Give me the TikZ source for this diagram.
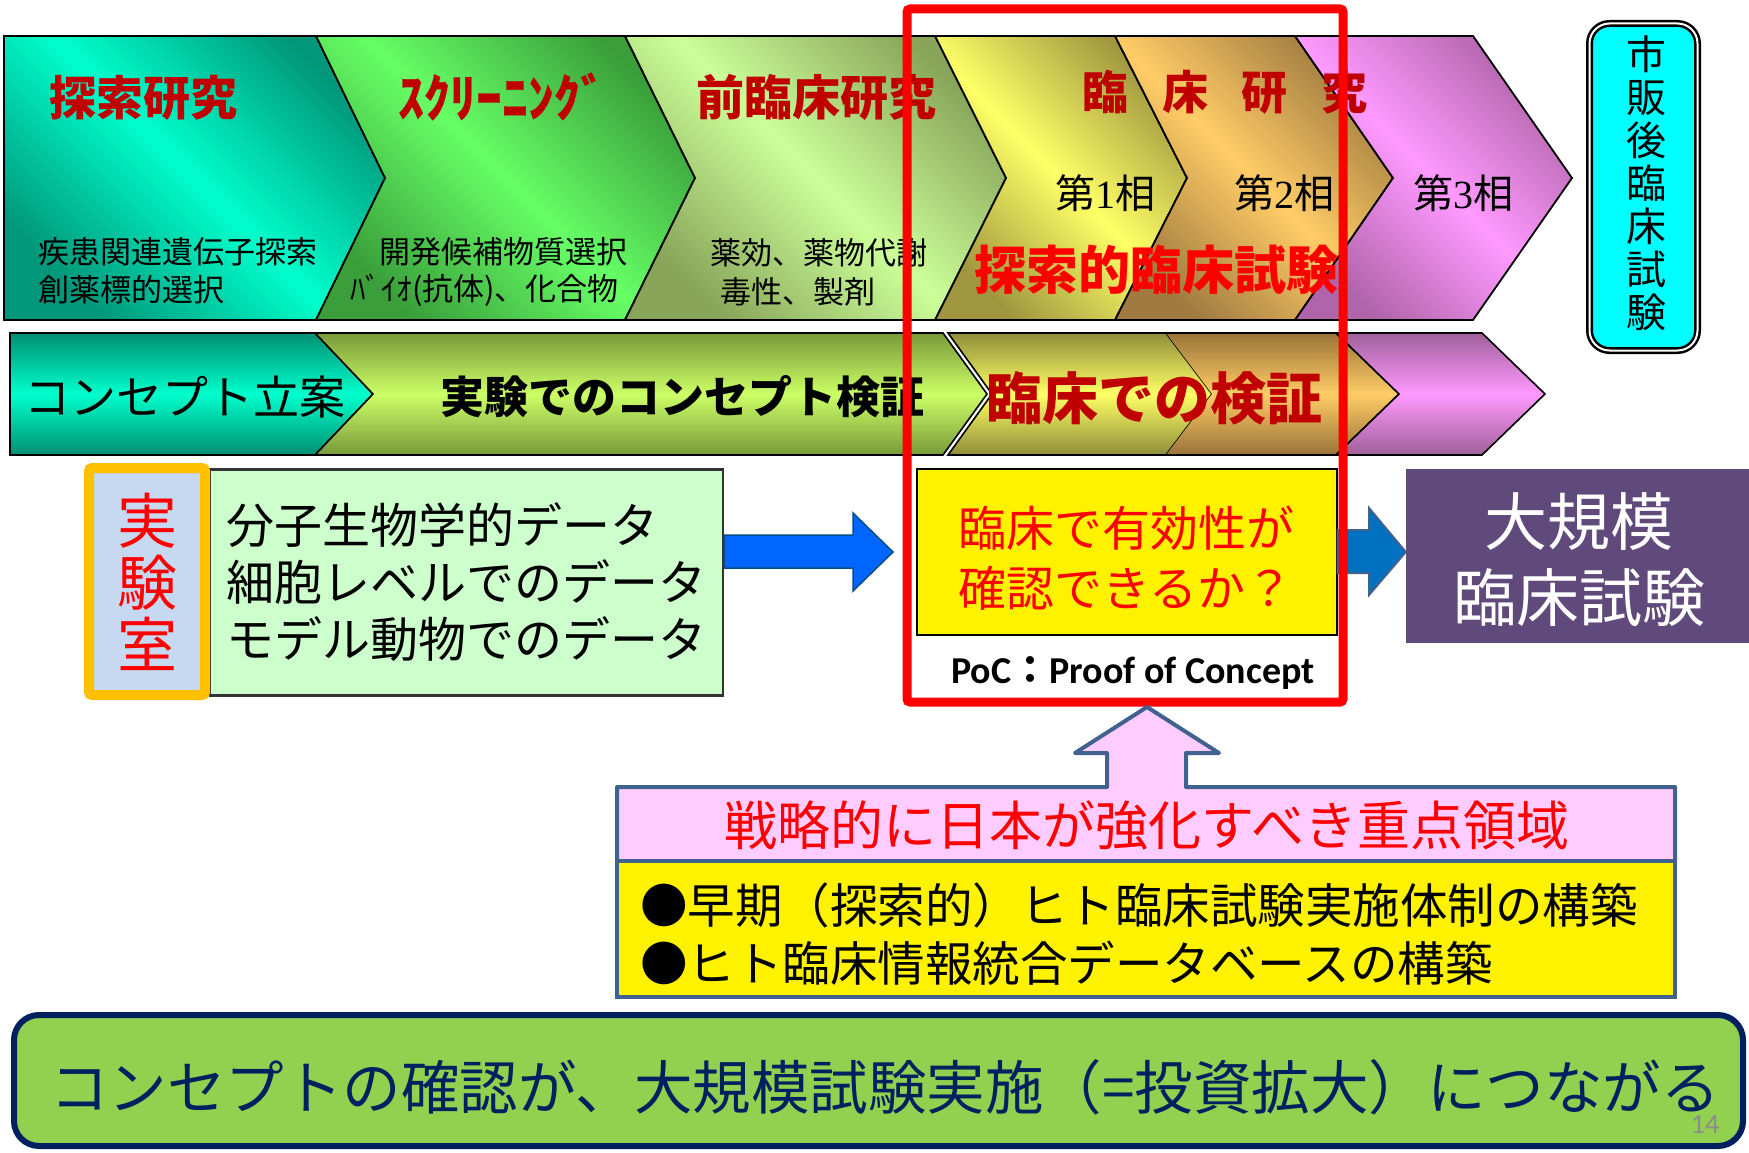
\documentclass[tikz,border=0pt]{standalone}
\usepackage{fontspec}
\setmainfont{Noto Sans CJK JP}
\newfontfamily\calfont{Carlito}
\newfontfamily\serfont{Liberation Serif}
\usetikzlibrary{calc}
\definecolor{dred}{HTML}{C00000}
\definecolor{bred}{HTML}{FF0000}
\definecolor{cAd}{HTML}{00977A}\definecolor{cAb}{HTML}{00FFCC}
\definecolor{cBd}{HTML}{3A9F3A}\definecolor{cBb}{HTML}{66FF66}
\definecolor{cCd}{HTML}{88A55A}\definecolor{cCb}{HTML}{CCFF99}
\definecolor{cDd}{HTML}{A0963F}\definecolor{cDb}{HTML}{FFFF66}
\definecolor{cEd}{HTML}{A07A40}\definecolor{cEb}{HTML}{FFCC66}
\definecolor{cFd}{HTML}{B064AA}\definecolor{cFb}{HTML}{FF99FF}
\definecolor{rAd}{HTML}{008F72}\definecolor{rAb}{HTML}{00FFCC}
\definecolor{rBd}{HTML}{789A3A}\definecolor{rBb}{HTML}{CCFF66}
\definecolor{rCd}{HTML}{8F8E3A}\definecolor{rCb}{HTML}{FFFF66}
\definecolor{rEd}{HTML}{9A7338}\definecolor{rEb}{HTML}{FFCC66}
\definecolor{rFd}{HTML}{A0609A}\definecolor{rFb}{HTML}{FF99FF}
\definecolor{labor}{HTML}{FFC000}
\definecolor{labfill}{HTML}{C6D9F1}
\definecolor{lgreen}{HTML}{CCFFCC}
\definecolor{purp}{HTML}{604A7B}
\definecolor{steel}{HTML}{41618F}
\definecolor{pinkf}{HTML}{FFCCFF}
\definecolor{navy}{HTML}{002060}
\definecolor{concg}{HTML}{92D050}
\definecolor{arrb}{HTML}{0066FF}
\definecolor{arrd}{HTML}{0070C0}
\definecolor{aqua}{HTML}{00FFFF}
\newcommand\fz[2]{\fontsize{#1}{#2}\selectfont}
\tikzset{
  chev/.style={draw=black, line width=1.8pt, line join=miter},
  chevthin/.style={draw=black, line width=1.6pt, line join=miter},
  dg/.style n args={2}{top color=#1, bottom color=#1, middle color=#2, shading angle=-45},
  vg/.style n args={2}{top color=#1, bottom color=#1, middle color=#2},
  txt/.style={inner sep=0pt, outer sep=0pt},
}
\begin{document}
\begin{tikzpicture}[x=1pt,y=-1pt]
\fill[white] (0,0) rectangle (1749,1153);
\useasboundingbox (0,0) rectangle (1749,1153);

% ---------- row 1 chevrons
\path[chev, dg={cAd}{cAb}] (4,36)--(316,36)--(385,178)--(316,320)--(4,320)--cycle;
\path[chev, dg={cBd}{cBb}] (316,36)--(625,36)--(695,178)--(625,320)--(316,320)--(385,178)--cycle;
\path[chev, dg={cCd}{cCb}] (625,36)--(935,36)--(1006,178)--(935,320)--(625,320)--(695,178)--cycle;
\path[chev, dg={cDd}{cDb}] (935,36)--(1115,36)--(1187,178)--(1115,320)--(935,320)--(1006,178)--cycle;
\path[chev, dg={cEd}{cEb}] (1115,36)--(1295,36)--(1393,178)--(1295,320)--(1115,320)--(1187,178)--cycle;
\path[chev, dg={cFd}{cFb}] (1295,36)--(1473,36)--(1572,178)--(1473,320)--(1295,320)--(1393,178)--cycle;

% ---------- row 1 texts
\node[txt, text=dred, font=\bfseries\fz{47}{56}] (t1) at (143,98) {探索研究};
\node[txt, text=dred, font=\bfseries\fz{52}{60}] (t2) at (502,97) {ｽｸﾘｰﾆﾝｸﾞ};
\node[txt, text=dred, font=\bfseries\fz{48}{56}] (t3) at (816,97) {前臨床研究};
\node[txt, text=dred, font=\bfseries\fz{46}{56}] (t4) at (1225,92) {臨\hspace{34pt}床\hspace{34pt}研\hspace{34pt}究};

\node[txt, anchor=west, font=\fz{31}{38}] (s1a) at (38,252) {疾患関連遺伝子探索};
\node[txt, anchor=west, font=\fz{31}{38}] (s1b) at (38,290) {創薬標的選択};
\node[txt, anchor=west, font=\fz{31}{38}] (s2a) at (379,252) {開発候補物質選択};
\node[txt, anchor=west, font=\fz{31}{38}] (s2b) at (350,290) {ﾊﾞｲｵ(抗体)、化合物};
\node[txt, anchor=west, font=\fz{31}{38}] (s3a) at (710,253) {薬効、薬物代謝};
\node[txt, anchor=west, font=\fz{31}{38}] (s3b) at (720,292) {毒性、製剤};

\node[txt, font=\fz{40}{48}] (p1) at (1105,193) {第{\serfont 1}相};
\node[txt, font=\fz{40}{48}] (p2) at (1284,193) {第{\serfont 2}相};
\node[txt, font=\fz{40}{48}] (p3) at (1463,193) {第{\serfont 3}相};
\node[txt, text=bred, font=\bfseries\fz{52}{60}] (t5) at (1156,270) {探索的臨床試験};

% ---------- row 2 chevrons
\path[chevthin, vg={rAd}{rAb}] (10,333)--(315,333)--(373,394)--(315,455)--(10,455)--cycle;
\path[chevthin, vg={rBd}{rBb}] (315,333)--(943,333)--(987,394)--(943,455)--(315,455)--(373,394)--cycle;
\path[chevthin, vg={rCd}{rCb}] (948,333)--(1166,333)--(1212,394)--(1166,455)--(948,455)--(992,394)--cycle;
\path[vg={rEd}{rEb}] (1166,333)--(1336,333)--(1399,394)--(1336,455)--(1166,455)--(1212,394)--cycle;
\draw[chevthin] (1166,333)--(1336,333)--(1399,394)--(1336,455)--(1166,455);
\path[chevthin, vg={rFd}{rFb}] (1336,333)--(1482,333)--(1545,394)--(1482,455)--(1336,455)--(1399,394)--cycle;

\node[txt, anchor=west, font=\fz{46}{54}] (r2a) at (24,397) {コンセプト立案};
\node[txt, font=\bfseries\fz{44}{52}] (r2b) at (682,397) {実験でのコンセプト検証};
\node[txt, text=dred, font=\bfseries\fz{56}{64}] (r2c) at (1154,398) {臨床での検証};

% ---------- row 3
\node[draw=black!80, line width=2.5pt, fill=lgreen, minimum width=513pt, minimum height=226pt,
      align=left, font=\fz{48}{57}, inner sep=0pt] (labdata) at (466.5,582.5)
      {分子生物学的データ\\細胞レベルでのデータ\\モデル動物でのデータ};
\node[draw=labor, line width=10pt, fill=labfill, minimum width=116pt, minimum height=227pt,
      rounded corners=3pt, text=bred, font=\fz{60}{62}, align=center, inner sep=0pt] (lab) at (147,581.5)
      {実\\験\\室};

\node[draw=black, line width=2pt, fill=yellow, minimum width=420pt, minimum height=166pt] (poc) at (1126.5,552) {};
\node[txt, text=bred, font=\fz{48}{60}, align=center] (poctext) at (1126,558) {臨床で有効性が\\確認できるか？};
\node[txt, font=\bfseries\fz{38}{44}] (poclabel) at (1133,673) {{\calfont PoC}：{\calfont Proof of Concept}};

\node[fill=purp, minimum width=343pt, minimum height=174pt, inner sep=0pt] (big) at (1577.5,556) {};
\node[txt, text=white, align=center, font=\fz{63}{76}] (bigtext) at (1579,560) {大規模\\臨床試験};

\node[draw=black, line width=2.5pt, double=white, double distance=2pt, fill=aqua, rounded corners=20pt,
      minimum width=108pt, minimum height=327pt, inner sep=0pt] (pms) at (1643.5,187) {};
\node[txt, align=center, font=\fz{40}{43}] (pmstext) at (1646,183) {市\\販\\後\\臨\\床\\試\\験};

% block arrows
\path[fill=arrb, draw=arrd!70!black, line width=1.5pt, line join=miter]
  (labdata.east |- 0,535) -- (853,535) -- (853,513) -- (893,552) -- (853,591) -- (853,568) -- (labdata.east |- 0,568) -- cycle;
\path[fill=arrd, draw=steel, line width=2pt, line join=miter]
  (poc.east |- 0,530) -- (1369,530) -- (1369,508) -- (big.west |- 0,552) -- (1369,595) -- (1369,573) -- (poc.east |- 0,573) -- cycle;

% red frame
\draw[bred, line width=9pt, rounded corners=3pt] (907,9) rectangle (1343,702);

% ---------- callout
\path[fill=pinkf, draw=steel, line width=4pt, line join=round]
  (617,787) -- (1107,787) -- (1107,753) -- (1075,753) -- (1147,707) -- (1219,753) -- (1186,753) -- (1186,787)
  -- (1675,787) -- (1675,861) -- (617,861) -- cycle;
\node[txt, text=bred, font=\fz{53}{60}] (strat) at (1147,825) {戦略的に日本が強化すべき重点領域};
\node[draw=steel, line width=4pt, fill=yellow, minimum width=1058pt, minimum height=136pt, inner sep=0pt] (focus) at (1146,929) {};
\node[txt, anchor=west, align=left, font=\fz{47.5}{58}] (focustext) at (640,934)
  {●早期（探索的）ヒト臨床試験実施体制の構築\\●ヒト臨床情報統合データベースの構築};

% ---------- conclusion
\node[draw=navy, line width=6pt, fill=concg, rounded corners=25pt, minimum width=1729pt, minimum height=131pt, inner sep=0pt] (concl) at (878.5,1080.5) {};
\node[txt, text=navy, font=\fz{58.5}{64}] (concltext) at (885,1087) {コンセプトの確認が、大規模試験実施（=投資拡大）につながる};
\node[txt, text=black!45, font=\calfont\fz{28}{32}] (pg) at (1705,1124) {14};
\end{tikzpicture}
\end{document}
